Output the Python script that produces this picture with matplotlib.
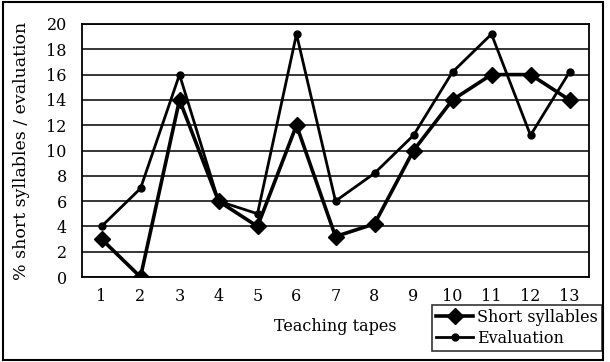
import matplotlib
matplotlib.use("Agg")
import matplotlib.pyplot as plt
from matplotlib.patches import Rectangle

tapes = list(range(1, 14))
short_syllables = [3, 0, 14, 6, 4, 12, 3.2, 4.2, 10, 14, 16, 16, 14]
evaluation = [4, 7, 16, 6, 5, 19.2, 6, 8.2, 11.2, 16.2, 19.2, 11.2, 16.2]
yticks = list(range(0, 21, 2))

plt.rcParams['font.family'] = ['DejaVu Serif']

fig = plt.figure(figsize=(6.10, 3.62), dpi=100)
ax = fig.add_axes([82/610, 1-277/362, (589-82)/610, (277-24)/362])

ax.plot(tapes, short_syllables, color='black', lw=2.6, marker='D', markersize=8.5,
        label='Short syllables', zorder=3)
ax.plot(tapes, evaluation, color='black', lw=2.0, marker='o', markersize=5,
        label='Evaluation', zorder=3)

ax.set_xlim(0.5, 13.5)
ax.set_ylim(0, 20)
ax.set_yticks(yticks)
ax.set_xticks(tapes)
ax.yaxis.grid(True, color='black', lw=1.1)
ax.set_axisbelow(True)
ax.tick_params(axis='both', length=0, labelsize=11.5, colors='black')
ax.tick_params(axis='y', pad=11)
ax.tick_params(axis='x', pad=8)
for s in ax.spines.values():
    s.set_color('black')
    s.set_linewidth(1.3)

ax.set_xlabel('Teaching tapes', fontsize=11.5, labelpad=9)
ax.set_ylabel('% short syllables / evaluation', fontsize=12.5, labelpad=12)

leg = fig.legend(loc='lower right', bbox_to_anchor=(602/610, 1-351/362),
                 fontsize=11.5, frameon=True, fancybox=False, edgecolor='black',
                 handlelength=2.3, handletextpad=0.25, borderpad=0.25,
                 labelspacing=0.25, borderaxespad=0)
leg.get_frame().set_linewidth(1.2)

fig.patches.append(Rectangle((3/610, 1-360/362), 600/610, 358/362,
                             transform=fig.transFigure, fill=False,
                             edgecolor='black', lw=1.5))

fig.savefig('out.png', dpi=100)
